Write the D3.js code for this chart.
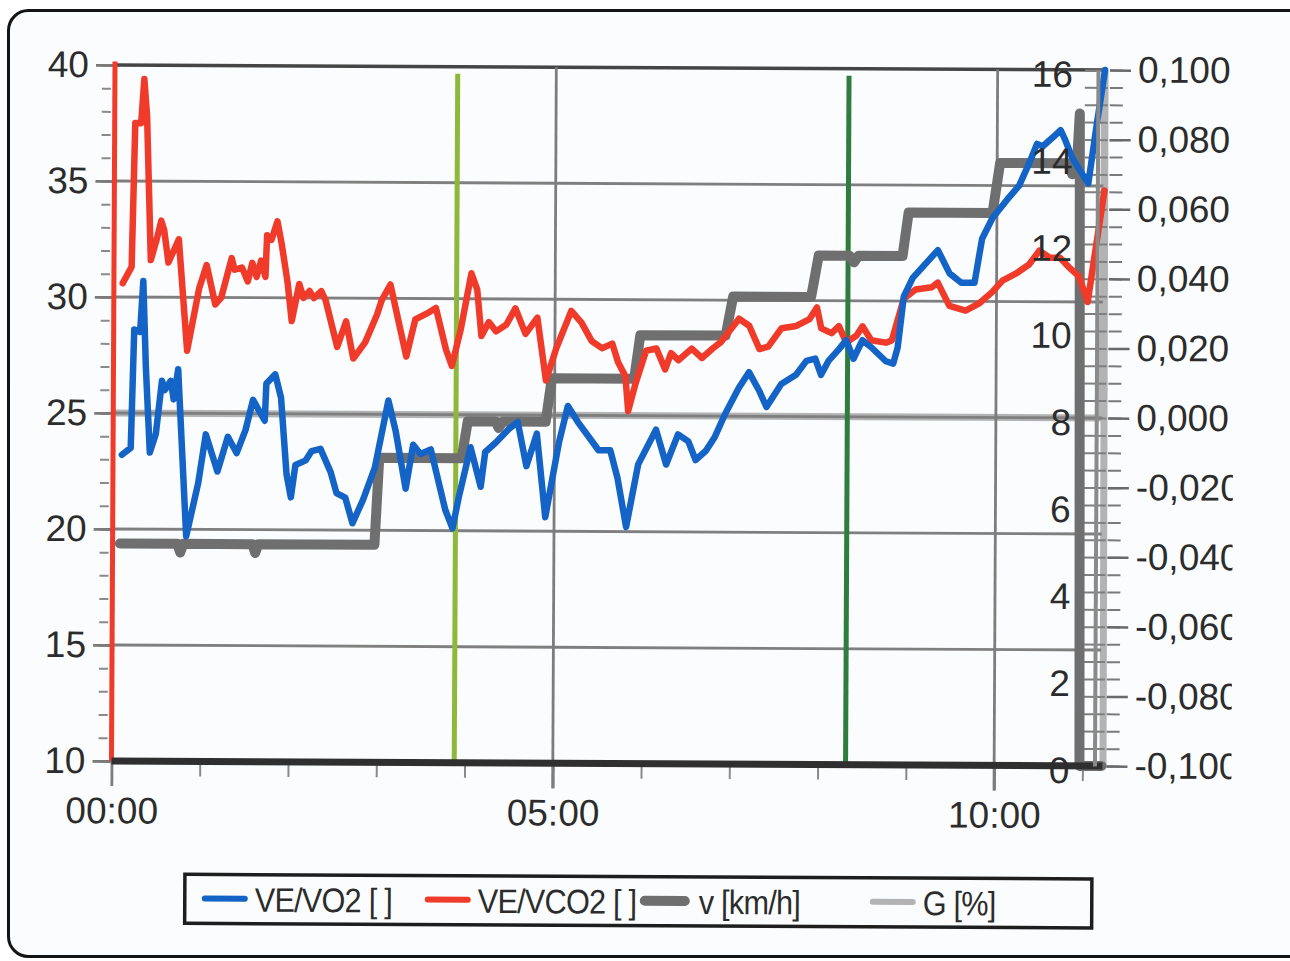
<!DOCTYPE html>
<html>
<head>
<meta charset="utf-8">
<script src="https://cdn.jsdelivr.net/npm/d3@7"></script>
<style>
  body { margin: 0; background: #ffffff; }
  svg { display: block; }
  text { font-family: "Liberation Sans", Arial, Helvetica, sans-serif; fill: #2c2c2c; }
</style>
</head>
<body>
<svg id="chart" width="1290" height="961"></svg>
<script>
// ---- data: time in seconds, ratios unitless, speed in km/h, grade in fraction ----
const veVo2 = [
  [6,23.2],[12,23.5],[14,28.6],[18,28.5],[20,30.7],[22,27.0],[25,23.3],[29,24.1],[33,26.4],[35,26.0],
  [39,26.4],[41,25.6],[44,26.9],[50,19.7],[58,22.0],[63,24.1],[71,22.5],[78,24.0],[84,23.3],[90,24.3],
  [95,25.6],[103,24.7],[104,26.3],[110,26.7],[114,25.7],[118,22.4],[121,21.4],[124,22.8],[131,23.0],[135,23.4],
  [141,23.5],[148,22.5],[152,21.6],[158,21.4],[163,20.3],[170,21.3],[178,22.7],[187,25.6],[192,24.3],[199,21.8],
  [204,23.7],[209,23.3],[216,23.5],[226,20.9],[231,20.1],[235,21.4],[243,23.6],[250,21.9],[253,23.4],[260,23.8],
  [269,24.4],[275,24.7],[281,22.8],[288,24.2],[294,20.6],[303,23.8],[309,25.4],[316,24.7],[323,24.1],[330,23.5],
  [338,23.5],[343,22.3],[349,20.2],[357,22.9],[369,24.4],[376,22.9],[384,24.2],[391,23.9],[396,23.1],[403,23.5],
  [409,24.1],[416,25.1],[425,26.2],[432,26.9],[439,26.1],[444,25.4],[454,26.4],[464,26.8],[471,27.4],[477,27.5],
  [481,26.8],[486,27.4],[493,27.9],[498,28.3],[503,27.5],[509,28.3],[515,28.0],[525,27.4],[530,27.3],[533,28.0],
  [537,30.2],[543,31.0],[560,32.2],[568,31.2],[576,30.8],[585,30.8],[590,32.7],[597,33.6],[607,34.4],[615,35.0],
  [622,36.0],[627,36.8],[631,36.7],[638,37.1],[643,37.4],[646,37.0],[651,36.2],[656,35.7],[662,35.1],[667,37.4],
  [673,40.0]
];
const veVco2 = [
  [6,30.6],[12,31.3],[14,37.5],[18,37.5],[20,39.4],[22,37.8],[25,31.6],[29,32.5],[32,33.3],[34,32.9],
  [37,31.5],[44,32.5],[50,27.7],[58,30.4],[63,31.4],[69,29.7],[73,30.0],[80,31.7],[82,31.2],[87,31.3],
  [91,30.7],[94,31.5],[97,30.9],[100,31.6],[103,30.9],[104,32.7],[107,32.5],[111,33.3],[114,32.3],[118,30.7],
  [121,29.0],[126,30.6],[129,30.0],[133,30.3],[136,30.0],[141,30.3],[144,29.9],[152,27.9],[158,29.0],[163,27.4],
  [171,28.1],[179,29.3],[182,29.9],[188,30.6],[199,27.5],[205,29.1],[214,29.4],[219,29.6],[226,27.8],[230,27.1],
  [236,28.7],[243,31.1],[247,30.4],[250,28.4],[255,29.0],[260,28.6],[267,28.9],[273,29.6],[280,28.5],[288,29.2],
  [294,26.5],[301,27.9],[311,29.5],[318,29.0],[325,28.2],[332,27.9],[339,28.1],[343,27.3],[348,26.7],[350,25.2],
  [355,26.4],[362,27.8],[369,27.9],[375,27.0],[379,27.7],[384,27.4],[393,27.9],[400,27.5],[407,27.9],[413,28.2],
  [425,29.2],[432,28.9],[439,27.9],[445,28.0],[454,28.8],[464,28.9],[473,29.2],[478,29.7],[481,28.8],[488,28.6],
  [493,28.9],[498,28.2],[505,28.5],[509,28.9],[515,28.3],[525,28.2],[529,28.3],[537,30.1],[545,30.5],[556,30.6],
  [560,30.8],[568,29.8],[579,29.6],[588,29.9],[597,30.4],[604,30.9],[613,31.2],[622,31.6],[629,32.2],[636,31.9],
  [643,31.9],[649,31.5],[656,31.1],[662,30.0],[667,32.2],[673,34.8]
];
const speed = [
  [5,5.0],[44,5.0],[46,4.8],[48,5.0],[95,5.0],[97,4.8],[99,5.0],[178,5.0],[181,7.0],[237,7.0],
  [241,7.85],[260,7.85],[262,7.7],[265,7.85],[294,7.85],[298,8.85],[354,8.85],[358,9.85],[416,9.85],[421,10.75],
  [474,10.75],[479,11.7],[500,11.7],[503,11.55],[506,11.7],[536,11.7],[540,12.7],[597,12.7],[602,13.85],[648,13.85],
  [651,13.6],[654,13.7],[656,15.0],[658,0],[673,0]
];
const grade = [[0,0],[672,0],[673,0.1],[674,-0.1]];

// stage marker times (s) and colours
const markerTimes = [0, 233, 499];
const markerColors = ["#f03a2a", "#8fb83a", "#2e7d3e"];

// axis ticks
const timeTicks = [0, 300, 600];
const ratioTicks = [10, 15, 20, 25, 30, 35, 40];
const speedTicks = [0, 2, 4, 6, 8, 10, 12, 14, 16];
const gradeTicks = [-0.1, -0.08, -0.06, -0.04, -0.02, 0, 0.02, 0.04, 0.06, 0.08, 0.1];

const legendLabels = ["VE/VO2 [ ]", "VE/VCO2 [ ]", "v [km/h]", "G [%]"];
const seriesColors = ["#1463c6", "#f03a2a", "#6f6f6f", "#b3b3b3"];

// ---- layout ----
const svg = d3.select("#chart");
const L = 115, R = 1108, T = 65, B = 761;

svg.append("rect").attr("x", 0).attr("y", 0).attr("width", 1290).attr("height", 961).attr("fill", "#ffffff");
svg.append("rect")
  .attr("x", 8.5).attr("y", 10.5).attr("width", 1310).attr("height", 946).attr("rx", 20)
  .attr("fill", "#fafcfd").attr("stroke", "#141414").attr("stroke-width", 3);

const x = d3.scaleLinear().domain([0, 675]).range([L, R]);
const yL = d3.scaleLinear().domain([10, 40]).range([B, T]);
const yV = d3.scaleLinear().domain([0, 16]).range([B, T]);
const yG = d3.scaleLinear().domain([-0.1, 0.1]).range([B, T]);

const g = svg.append("g").attr("transform", `rotate(0.29, ${L}, ${T})`);

const mmss = t => d3.format("02")(Math.floor(t / 60)) + ":" + d3.format("02")(t % 60);
const lineFrom = (ys) => d3.line().x(d => x(d[0])).y(d => ys(d[1]));

// grade trace sits underneath the grid (it runs along the 0 line)
g.append("path").datum(grade).attr("d", lineFrom(yG))
  .attr("fill", "none").attr("stroke", seriesColors[3]).attr("stroke-width", 7);

// horizontal grid
g.append("g").selectAll("line").data(ratioTicks.filter(d => d > 10 && d < 40)).join("line")
  .attr("x1", L).attr("x2", R - 4).attr("y1", d => yL(d)).attr("y2", d => yL(d))
  .attr("stroke", "#7f7f7f").attr("stroke-width", 2.8);
g.append("line").attr("x1", L).attr("x2", R - 2).attr("y1", yL(40)).attr("y2", yL(40))
  .attr("stroke", "#454545").attr("stroke-width", 3.5);

// vertical grid (major time ticks)
g.append("g").selectAll("line").data(timeTicks.filter(d => d > 0)).join("line")
  .attr("x1", d => x(d)).attr("x2", d => x(d)).attr("y1", T).attr("y2", B + 25)
  .attr("stroke", "#7d7d7d").attr("stroke-width", 2.8);

// left axis: minor + major ticks and labels
const leftMinor = g.append("g").attr("transform", `translate(${L - 4},0)`)
  .call(d3.axisLeft(yL).tickValues(d3.range(10, 40.5, 1)).tickSize(9).tickFormat(""));
leftMinor.select(".domain").remove();
leftMinor.selectAll("line").attr("stroke", "#8a8a8a").attr("stroke-width", 2);
const leftAxis = g.append("g").attr("transform", `translate(${L},0)`)
  .call(d3.axisLeft(yL).tickValues(ratioTicks).tickSize(19).tickPadding(7));
leftAxis.select(".domain").remove();
leftAxis.selectAll("line").attr("stroke", "#7a7a7a").attr("stroke-width", 2.8);
leftAxis.selectAll("text").attr("font-size", 37).attr("fill", "#2c2c2c");

// bottom axis
const minorTime = d3.range(60, 675, 60).filter(d => d % 300 !== 0);
const botMinor = g.append("g").attr("transform", `translate(0,${B})`)
  .call(d3.axisBottom(x).tickValues(minorTime).tickSize(15).tickFormat(""));
botMinor.select(".domain").remove();
botMinor.selectAll("line").attr("stroke", "#8a8a8a").attr("stroke-width", 2);
const botAxis = g.append("g").attr("transform", `translate(0,${B})`)
  .call(d3.axisBottom(x).tickValues(timeTicks).tickSize(25).tickPadding(11).tickFormat(mmss));
botAxis.select(".domain").remove();
botAxis.selectAll("line").attr("stroke", "#7d7d7d").attr("stroke-width", 2.8);
botAxis.selectAll("text").attr("font-size", 37).attr("fill", "#2c2c2c");

// stage markers
g.append("g").selectAll("line").data(markerTimes).join("line")
  .attr("x1", d => x(d)).attr("x2", d => x(d))
  .attr("y1", (d, i) => i === 0 ? yL(40.15) : yL(39.7)).attr("y2", B)
  .attr("stroke", (d, i) => markerColors[i]).attr("stroke-width", 5);

// inner crossing ticks of the grade axis
const gMinorIn = g.append("g").attr("transform", `translate(${R},0)`)
  .call(d3.axisRight(yG).tickValues(d3.range(-0.1, 0.1001, 0.005)).tickSize(-23).tickFormat(""));
gMinorIn.select(".domain").remove();
gMinorIn.selectAll("line").attr("stroke", "#7f7f7f").attr("stroke-width", 2);

// series
g.append("path").datum(speed).attr("d", lineFrom(yV))
  .attr("fill", "none").attr("stroke", seriesColors[2]).attr("stroke-width", 10)
  .attr("stroke-linejoin", "round").attr("stroke-linecap", "round");
g.append("path").datum(veVco2).attr("d", lineFrom(yL))
  .attr("fill", "none").attr("stroke", seriesColors[1]).attr("stroke-width", 6.5)
  .attr("stroke-linejoin", "round").attr("stroke-linecap", "round");
g.append("path").datum(veVo2).attr("d", lineFrom(yL))
  .attr("fill", "none").attr("stroke", seriesColors[0]).attr("stroke-width", 6.5)
  .attr("stroke-linejoin", "round").attr("stroke-linecap", "round");

// x-axis baseline
g.append("line").attr("x1", L).attr("x2", R - 2).attr("y1", B).attr("y2", B)
  .attr("stroke", "#2f2f2f").attr("stroke-width", 7);

// speed axis (inside the right edge)
const vAxis = g.append("g").attr("transform", `translate(${R - 10},0)`)
  .call(d3.axisLeft(yV).tickValues(speedTicks).tickSize(0).tickPadding(25));
vAxis.select(".domain").attr("stroke", "#8a8a8a").attr("stroke-width", 4);
vAxis.selectAll("text").attr("font-size", 37).attr("dy", "0.45em").attr("fill", "#2c2c2c");

// grade axis on the far right, labels cut at the panel edge
const labelEdge = 1235;
const clip = svg.append("clipPath").attr("id", "gradeClip");
clip.append("rect").attr("x", -40).attr("y", -20).attr("width", labelEdge - (R + 2) + 40).attr("height", 1000);
const gMinor = g.append("g").attr("transform", `translate(${R + 2},0)`)
  .call(d3.axisRight(yG).tickValues(d3.range(-0.1, 0.1001, 0.005)).tickSize(13).tickFormat(""));
gMinor.select(".domain").remove();
gMinor.selectAll("line").attr("stroke", "#7a7a7a").attr("stroke-width", 2);
const gAxis = g.append("g").attr("transform", `translate(${R + 2},0)`)
  .attr("clip-path", "url(#gradeClip)")
  .call(d3.axisRight(yG).tickValues(gradeTicks).tickSize(21).tickPadding(7)
    .tickFormat(d => d3.format(".3f")(d).replace("\u2212", "-").replace(".", ",")));
gAxis.select(".domain").remove();
gAxis.selectAll("line").attr("stroke", "#6a6a6a").attr("stroke-width", 2.5);
gAxis.selectAll("text").attr("font-size", 37).attr("fill", "#2c2c2c");

// legend
const lg = g.append("g");
lg.append("rect").attr("x", 189).attr("y", 874).attr("width", 907).attr("height", 49)
  .attr("fill", "none").attr("stroke", "#1e1e1e").attr("stroke-width", 3.5);
const legendX = [209, 432, 649, 877];
const legendW = [6, 6, 10, 6];
legendLabels.forEach((label, i) => {
  lg.append("line").attr("x1", legendX[i]).attr("x2", legendX[i] + 40)
    .attr("y1", 898).attr("y2", 898)
    .attr("stroke", seriesColors[i]).attr("stroke-width", legendW[i]).attr("stroke-linecap", "round");
  const tx = legendX[i] + (i === 2 ? 54 : 50);
  lg.append("text").attr("x", 0).attr("y", 0)
    .attr("transform", `translate(${tx},911) scale(0.9,1)`)
    .attr("font-size", 34).attr("letter-spacing", "-0.8px").text(label);
});
</script>
</body>
</html>
